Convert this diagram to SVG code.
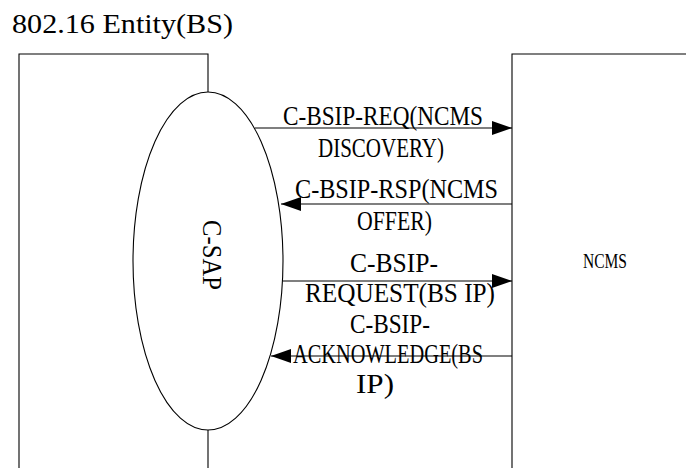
<svg xmlns="http://www.w3.org/2000/svg" width="686" height="468" viewBox="0 0 686 468">
<style>
.ln{stroke:#000;stroke-width:1.1;fill:none}
.t{font-family:"Liberation Serif","Times New Roman",serif;font-size:28px;fill:#000}
.s{font-size:22px}
</style>
<defs>
<marker id="ah" viewBox="0 0 20 14" refX="20" refY="7" markerWidth="20" markerHeight="14" markerUnits="userSpaceOnUse" orient="auto">
<path d="M0,0 L20,7 L0,14 Z" fill="#000"/>
</marker>
</defs>
<rect width="686" height="468" fill="#fff"/>
<text class="t" x="12" y="33" textLength="221" lengthAdjust="spacingAndGlyphs">802.16 Entity(BS)</text>
<g id="bs">
<path class="ln" d="M19,468 V54 H208 V92 M208,430 V468"/>
</g>
<g id="gsap">
<ellipse class="ln" cx="208" cy="261" rx="75" ry="169"/>
<text class="t" transform="translate(203,255) rotate(90)" text-anchor="middle" textLength="70" lengthAdjust="spacingAndGlyphs">C-SAP</text>
</g>
<g id="ncms">
<path class="ln" d="M512,468 V54 H690"/>
<text class="t s" x="583" y="268" textLength="44" lengthAdjust="spacingAndGlyphs">NCMS</text>
</g>
<g id="connectors">
<line class="ln" x1="255" y1="128" x2="512" y2="128" marker-end="url(#ah)"/>
<line class="ln" x1="512" y1="204" x2="281" y2="204" marker-end="url(#ah)"/>
<line class="ln" x1="283" y1="281" x2="512" y2="281" marker-end="url(#ah)"/>
<line class="ln" x1="512" y1="356" x2="271" y2="356" marker-end="url(#ah)"/>
<text class="t" x="283" y="125" textLength="200" lengthAdjust="spacingAndGlyphs">C-BSIP-REQ(NCMS</text>
<text class="t" x="318" y="157" textLength="126" lengthAdjust="spacingAndGlyphs">DISCOVERY)</text>
<text class="t" x="295" y="198" textLength="203" lengthAdjust="spacingAndGlyphs">C-BSIP-RSP(NCMS</text>
<text class="t" x="357" y="230" textLength="75" lengthAdjust="spacingAndGlyphs">OFFER)</text>
<text class="t" x="350" y="272" textLength="88" lengthAdjust="spacingAndGlyphs">C-BSIP-</text>
<text class="t" x="305" y="302" textLength="190" lengthAdjust="spacingAndGlyphs">REQUEST(BS IP)</text>
<text class="t" x="350" y="333" textLength="80" lengthAdjust="spacingAndGlyphs">C-BSIP-</text>
<text class="t" x="293" y="363" textLength="190" lengthAdjust="spacingAndGlyphs">ACKNOWLEDGE(BS</text>
<text class="t" x="356" y="393" textLength="38" lengthAdjust="spacingAndGlyphs">IP)</text>
</g>
</svg>
